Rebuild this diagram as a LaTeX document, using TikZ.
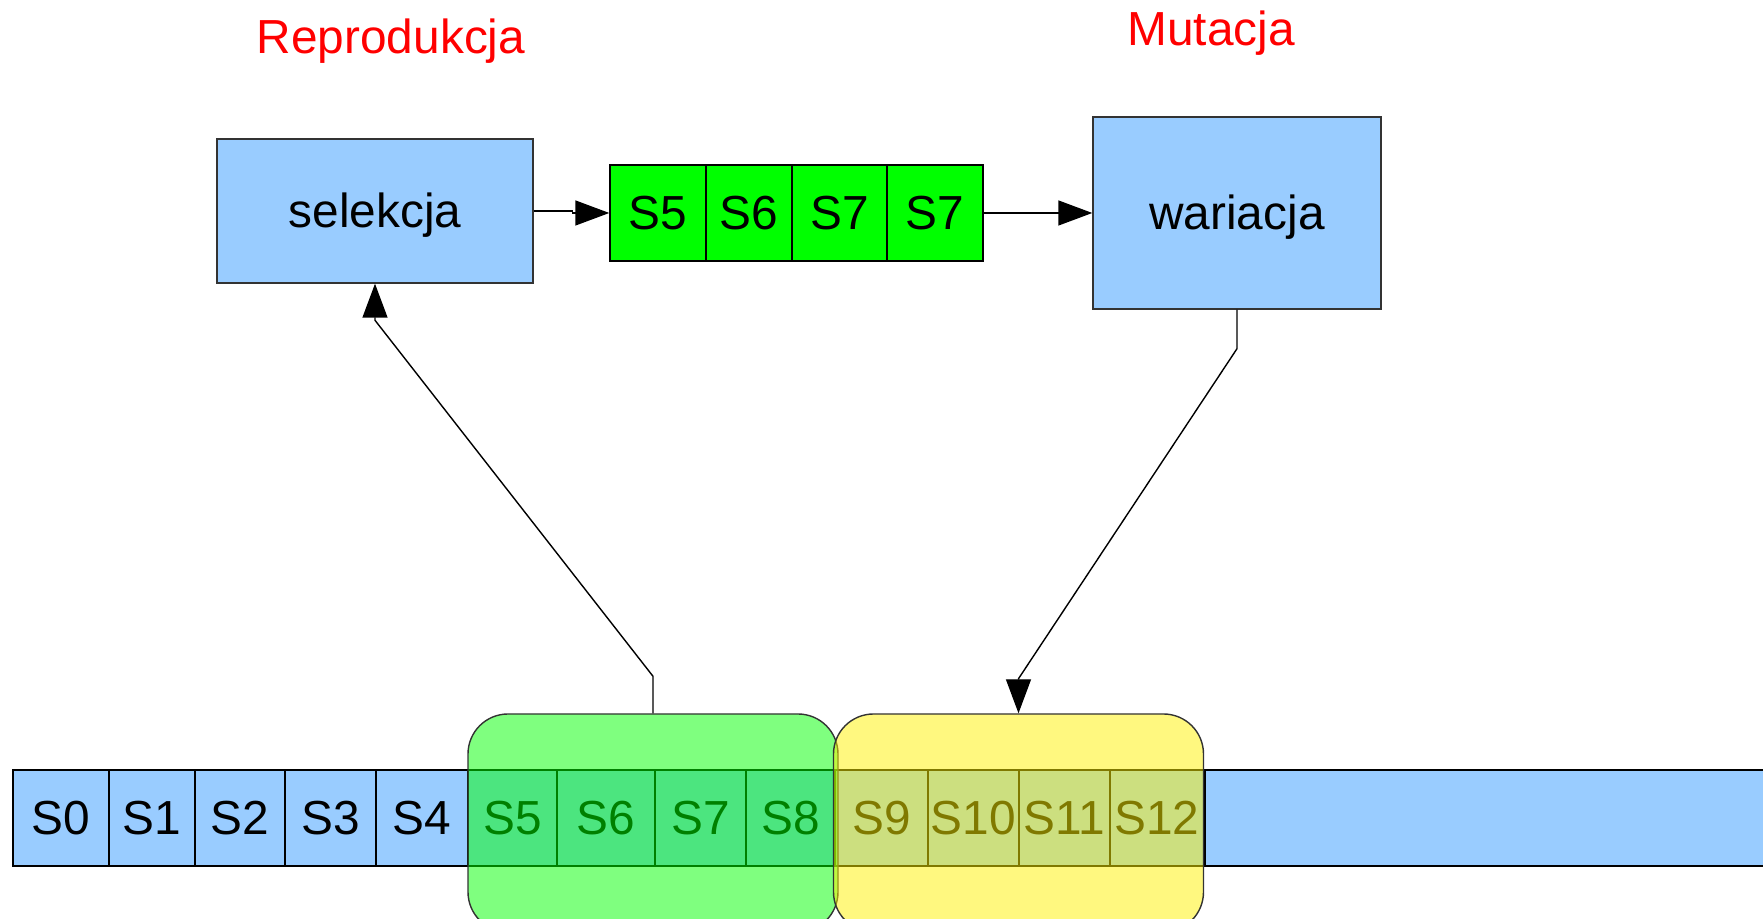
\documentclass[tikz,border=0pt]{standalone}
\usepackage{fontspec}
\setmainfont{Liberation Sans}
\usepackage{tikz}
\usetikzlibrary{shapes,arrows.meta}
\definecolor{niebieski}{HTML}{99CCFF}
\definecolor{zielony}{HTML}{00FF00}
\definecolor{obwod}{HTML}{333333}
\tikzstyle{every node}=[font=\fontsize{13.6pt}{16pt}\selectfont]
\tikzstyle{cell}=[draw, fill=niebieski, inner sep=0pt, minimum height=0.96cm, text height=12.3pt, text depth=2.9pt]
\tikzstyle{gcell}=[draw, fill=zielony, inner sep=0pt, minimum height=0.96cm, text height=12.3pt, text depth=2.9pt]
\tikzstyle{blok}=[draw=obwod, fill=niebieski, inner sep=0pt, text height=12.3pt, text depth=2.9pt]
\tikzstyle{okno}=[draw=obwod, rounded corners=0.4cm, fill opacity=0.5, draw opacity=1, inner sep=0pt, minimum width=3.70cm, minimum height=2.18cm]
\tikzstyle{strz}=[-{Triangle[length=3.4mm,width=2.5mm]}, thin]

\begin{document}
\begin{tikzpicture}
\clip (0,0) rectangle (17.63,-9.19);
% naglowki
\node[red, anchor=base] (rep) at (3.91,-0.54) {Reprodukcja};
\node[red, anchor=base] (mut) at (12.11,-0.46) {Mutacja};
% operatory
\node[blok, minimum width=3.16cm, minimum height=1.44cm] (sel) at (3.75,-2.11) {selekcja};
\node[blok, minimum width=2.88cm, minimum height=1.92cm] (war) at (12.37,-2.13) {wariacja};
% wybrane osobniki
\node[gcell, minimum width=0.96cm] (t5) at (6.58,-2.13) {S5};
\node[gcell, minimum width=0.86cm] (t6) at (7.49,-2.13) {S6};
\node[gcell, minimum width=0.95cm] (t7) at (8.395,-2.13) {S7};
\node[gcell, minimum width=0.96cm] (t8) at (9.35,-2.13) {S7};
% populacja
\node[cell, minimum width=0.96cm] (s0) at (0.61,-8.18) {S0};
\node[cell, minimum width=0.86cm] (s1) at (1.52,-8.18) {S1};
\node[cell, minimum width=0.90cm] (s2) at (2.40,-8.18) {S2};
\node[cell, minimum width=0.91cm] (s3) at (3.305,-8.18) {S3};
\node[cell, minimum width=0.92cm] (s4) at (4.22,-8.18) {S4};
\node[cell, minimum width=0.89cm] (s5) at (5.125,-8.18) {S5};
\node[cell, minimum width=0.98cm] (s6) at (6.06,-8.18) {S6};
\node[cell, minimum width=0.91cm] (s7) at (7.005,-8.18) {S7};
\node[cell, minimum width=0.89cm] (s8) at (7.905,-8.18) {S8};
\node[cell, minimum width=0.93cm] (s9) at (8.815,-8.18) {S9};
\node[cell, minimum width=0.91cm] (s10) at (9.735,-8.18) {S10};
\node[cell, minimum width=0.91cm] (s11) at (10.645,-8.18) {S11};
\node[cell, minimum width=0.94cm] (s12) at (11.57,-8.18) {S12};
\node[cell, minimum width=5.70cm] (reszta) at (14.90,-8.18) {};
% okna na populacji
\node[okno, fill=zielony] (gbox) at (6.53,-8.23) {};
\node[okno, fill=yellow] (ybox) at (10.185,-8.23) {};
% polaczenia
\draw[strz] (sel.east) -- ++(0.39,0) |- (t5.west);
\draw[strz] (t8.east) -- (war.west);
\draw[strz] (gbox.north) -- ++(0,0.37) -- ++(-2.78,3.56) -- (sel.south);
\draw[strz] (war.south) -- ++(0,-0.39) -- ++(-2.185,-3.30) -- (ybox.north);
\end{tikzpicture}
\end{document}
